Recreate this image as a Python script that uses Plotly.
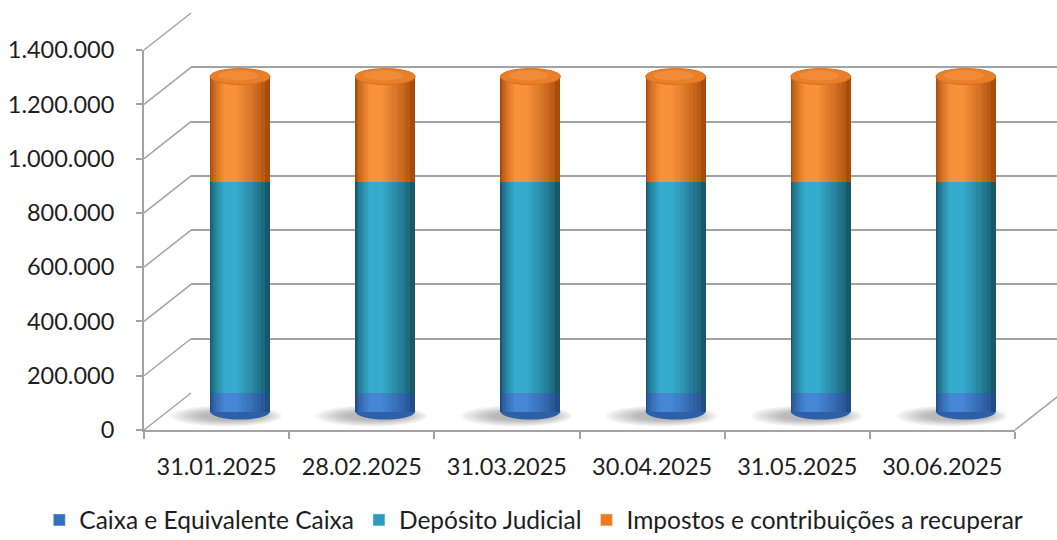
import plotly.graph_objects as go

# ---------------- data ----------------
categories = ["31.01.2025", "28.02.2025", "31.03.2025", "30.04.2025", "31.05.2025", "30.06.2025"]
caixa = [70000, 70000, 70000, 70000, 70000, 70000]
deposito = [777000, 777000, 777000, 777000, 777000, 777000]
impostos = [387000, 387000, 387000, 387000, 387000, 387000]
series_names = ["Caixa e Equivalente Caixa", "Depósito Judicial", "Impostos e contribuições a recuperar"]
y_ticks = [0, 200000, 400000, 600000, 800000, 1000000, 1200000, 1400000]
y_max = 1400000

# ---------------- styling ----------------
W, H = 1057, 540
FONT = "Lato"
GRID = "#a3a3a3"
TXT = "#1e1e1e"

# cylinder shading: dark edge colour -> highlight colour per series
shade_stops = [("#214d88", "#4686d4"), ("#17596a", "#35acce"), ("#a84b0b", "#f7913a")]
legend_cols = ["#3570bd", "#2c9cbc", "#ec7b22"]
N_LAYERS = 10
HALF = 0.2065


def mix(c1, c2, t):
    a = [int(c1[i:i + 2], 16) for i in (1, 3, 5)]
    b = [int(c2[i:i + 2], 16) for i in (1, 3, 5)]
    return "#" + "".join(f"{round(a[k] + (b[k] - a[k]) * t):02x}" for k in range(3))


def px(x):
    return x / W


def py(y):
    return 1 - y / H


# pixel geometry (front, bar plane, back wall)
FX0, FX1 = 144, 1015
FY0, FY1 = 430, 50
DX, DY = 47, -37
PPU = (FY0 - FY1) / y_max  # pixels per unit
BAR_PAD = 80000

fig = go.Figure()

# dummy trace so the back-wall subplot is drawn
fig.add_trace(go.Scatter(x=[0, 1], y=[None, None], mode="none", showlegend=False,
                         hoverinfo="skip", xaxis="x", yaxis="y"))
# dummy trace for front axes
fig.add_trace(go.Scatter(x=categories, y=[None] * len(categories), mode="none",
                         showlegend=False, hoverinfo="skip", xaxis="x2", yaxis="y2"))

series_vals = [caixa, deposito, impostos]
for li in range(N_LAYERS):
    ax_id = 3 + li
    t = li / (N_LAYERS - 1)
    left = -HALF + (HALF - 0.11) * t ** 1.1 if li else -HALF
    right = HALF - (HALF + 0.015) * t ** 0.85 if li else HALF
    for si, (name, vals) in enumerate(zip(series_names, series_vals)):
        col = mix(shade_stops[si][0], shade_stops[si][1], t ** 0.7)
        fig.add_trace(go.Bar(
            x=categories, y=vals, name=name,
            width=right - left, offset=left,
            marker=dict(color=col, line=dict(width=0)),
            legendgroup=name, showlegend=False,
            xaxis=f"x{ax_id}", yaxis=f"y{ax_id}", hoverinfo="skip",
        ))

# legend entries
for si, name in enumerate(series_names):
    fig.add_trace(go.Bar(x=[categories[0]], y=[None], name=name,
                         marker=dict(color=legend_cols[si]), legendgroup=name,
                         showlegend=True, xaxis="x2", yaxis="y2", hoverinfo="skip"))

layout = dict(
    width=W, height=H,
    margin=dict(l=0, r=0, t=0, b=0, autoexpand=False),
    paper_bgcolor="white", plot_bgcolor="rgba(0,0,0,0)",
    separators=",.",
    barmode="stack",
    font=dict(family=FONT, color=TXT),
    showlegend=True,
    legend=dict(orientation="h", x=0.505, xanchor="center", y=py(520), yanchor="middle",
                traceorder="normal", font=dict(size=24.5, family=FONT, color=TXT),
                itemwidth=30, bgcolor="rgba(0,0,0,0)"),
    # back wall
    xaxis=dict(domain=[px(FX0 + DX), 1], range=[0, 1], showgrid=False, zeroline=False,
               showline=False, showticklabels=False, ticks="", anchor="y"),
    yaxis=dict(domain=[py(FY0 + DY + 1), py(FY1 + DY)], range=[-1 / PPU, y_max], tickvals=y_ticks,
               showgrid=True, gridcolor=GRID, gridwidth=1.5, zeroline=False, showline=False,
               showticklabels=False, ticks="", anchor="x"),
    # front axes
    xaxis2=dict(domain=[px(FX0), px(FX1)], type="category", categoryorder="array",
                categoryarray=categories, range=[-0.5, len(categories) - 0.5],
                showline=True, linecolor=GRID, linewidth=2, ticks="outside", tickson="boundaries",
                ticklen=7, tickcolor=GRID, tickwidth=1.5, showgrid=False, zeroline=False,
                tickfont=dict(size=23.5, family=FONT, color=TXT), ticklabelstandoff=15,
                anchor="y2"),
    yaxis2=dict(domain=[py(FY0), py(FY1)], range=[0, y_max], tickvals=y_ticks,
                tickformat=",d", showline=True, linecolor=GRID, linewidth=2,
                ticks="outside", ticklen=6, tickcolor=GRID, tickwidth=1.5,
                showgrid=False, zeroline=False,
                tickfont=dict(size=23.5, family=FONT, color=TXT), ticklabelstandoff=17,
                anchor="x2"),
)

# bar-plane axes (half depth)
BX0, BX1 = FX0 + DX / 2, FX1 + DX / 2
BY0, BY1 = FY0 + DY / 2, FY1 + DY / 2
for li in range(N_LAYERS):
    ax_id = 3 + li
    xa = dict(type="category", categoryorder="array", categoryarray=categories,
              range=[-0.5, len(categories) - 0.5], visible=False, anchor=f"y{ax_id}")
    ya = dict(range=[-BAR_PAD, y_max], visible=False, anchor=f"x{ax_id}")
    if li == 0:
        xa["domain"] = [px(BX0), px(BX1)]
        ya["domain"] = [py(BY0 + BAR_PAD * PPU), py(BY1)]
    else:
        xa["overlaying"] = "x3"
        ya["overlaying"] = "y3"
    layout[f"xaxis{ax_id}"] = xa
    layout[f"yaxis{ax_id}"] = ya

fig.update_layout(**layout)

shapes = []
# left wall diagonals (from front ticks to back gridlines)
for v in y_ticks:
    yf = FY0 - PPU * v
    shapes.append(dict(type="line", xref="paper", yref="paper",
                       x0=px(FX0), y0=py(yf), x1=px(FX0 + DX), y1=py(yf + DY),
                       line=dict(color=GRID, width=1.5), layer="below"))
# right floor diagonal
shapes.append(dict(type="line", xref="paper", yref="paper",
                   x0=px(FX1), y0=py(FY0), x1=px(FX1 + DX), y1=py(FY0 + DY),
                   line=dict(color=GRID, width=1.5), layer="below"))

totals = [a + b + c for a, b, c in zip(caixa, deposito, impostos)]
half_w = HALF * (BX1 - BX0) / len(categories)
for i, t in enumerate(totals):
    # soft shadow (stack of faint ellipses)
    for k in range(8):
        f = k / 7
        shapes.append(dict(type="circle", xref="x3", yref="y3", xsizemode="pixel",
                           ysizemode="pixel", xanchor=i, yanchor=0,
                           x0=-70 + 30 * f, x1=42 - 20 * f, y0=-15 + 6 * f, y1=6 - 6 * f,
                           fillcolor="rgba(60,60,60,0.05)", line=dict(width=0),
                           layer="between"))
    # rounded bottom of the cylinder
    shapes.append(dict(type="circle", xref="x3", yref="y3", xsizemode="pixel",
                       ysizemode="pixel", xanchor=i, yanchor=0,
                       x0=-half_w, x1=half_w, y0=-8, y1=8,
                       fillcolor="#2d60a6", line=dict(width=0), layer="between"))
    # top cap
    shapes.append(dict(type="circle", xref="x3", yref="y3", xsizemode="pixel",
                       ysizemode="pixel", xanchor=i, yanchor=t,
                       x0=-half_w, x1=half_w, y0=-8, y1=8,
                       fillcolor="#e97f28", line=dict(color="#d6711f", width=1), layer="above"))
    shapes.append(dict(type="circle", xref="x3", yref="y3", xsizemode="pixel",
                       ysizemode="pixel", xanchor=i, yanchor=t,
                       x0=-half_w + 8, x1=half_w - 12, y0=-4, y1=6,
                       fillcolor="#f08c37", line=dict(width=0), layer="above"))

fig.update_layout(shapes=shapes)
fig.write_html("out.html", config={"displayModeBar": False},
               post_script="document.body.style.margin='0';document.body.style.overflow='hidden';")
